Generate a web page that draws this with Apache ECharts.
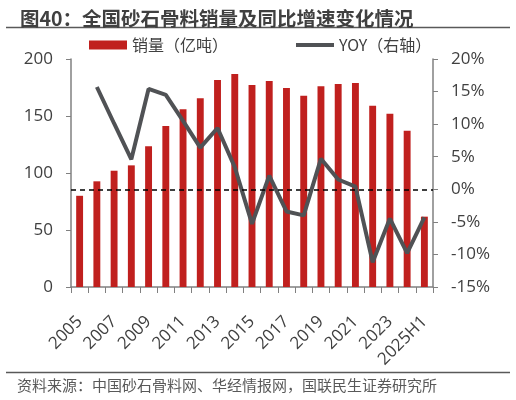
<!DOCTYPE html>
<html><head><meta charset="utf-8">
<script src="https://cdn.jsdelivr.net/npm/echarts@6/dist/echarts.min.js"></script>
<style>html,body{margin:0;padding:0;background:#fff;}#c{width:516px;height:400px;}</style>
</head><body><div id="c"></div>
<script>
const categories = ['2005','2006','2007','2008','2009','2010','2011','2012','2013','2014','2015','2016','2017','2018','2019','2020','2021','2022','2023','2024','2025H1'];
const salesVolume = [80, 92.7, 102, 106.7, 123.4, 141.2, 155.9, 165.5, 181.6, 186.8, 177.2, 180.7, 174.6, 167.8, 176, 178, 179, 159, 152, 137, 61.7];
const yoyGrowth = [null, 15.7, 10.1, 4.6, 15.4, 14.5, 10.5, 6.4, 9.4, 3.4, -5.3, 2.1, -3.4, -4.0, 4.7, 1.5, 0.4, -11.2, -4.5, -9.8, -4.3];
const leftTicks = [0, 50, 100, 150, 200];
const rightTicks = [-15, -10, -5, 0, 5, 10, 15, 20];

const font = '"Open Sans","Noto Sans CJK SC",sans-serif';
const cjk = '"Noto Sans CJK SC",sans-serif';
const chart = echarts.init(document.getElementById('c'));
chart.setOption({
  animation: false,
  backgroundColor: '#fff',
  title: {
    text: '图40：全国砂石骨料销量及同比增速变化情况',
    left: 15, top: 4,
    textStyle: {fontFamily: cjk, fontSize: 19.5, fontWeight: 'bold', color: '#404040'}
  },
  graphic: [
    {type: 'line', shape: {x1: 6, y1: 27.5, x2: 510, y2: 27.5}, style: {stroke: '#595959', lineWidth: 1.5}},
    {type: 'line', shape: {x1: 6, y1: 372.5, x2: 510, y2: 372.5}, style: {stroke: '#595959', lineWidth: 1.5}},
    {type: 'text', left: 17, top: 378, style: {text: '资料来源：中国砂石骨料网、华经情报网，国联民生证券研究所', fontFamily: cjk, fontSize: 15, fill: '#595959'}}
  ],
  legend: {
    top: 32, left: 84,
    itemGap: 68,
    itemWidth: 38, itemHeight: 9,
    textStyle: {fontFamily: cjk, fontSize: 16, color: '#404040'},
    data: [
      {name: '销量（亿吨）', icon: 'rect'},
      {name: 'YOY（右轴）', icon: 'path://M0,0 L40,0 L40,4 L0,4 Z'}
    ]
  },
  grid: {left: 71, right: 83, top: 59, bottom: 113},
  xAxis: {
    type: 'category', data: categories,
    boundaryGap: true,
    axisLine: {lineStyle: {color: '#808080', width: 1.5}},
    axisTick: {show: true, alignWithLabel: false, interval: 0, length: 6, lineStyle: {color: '#808080'}},
    axisLabel: {interval: 1, rotate: 45, fontFamily: font, fontSize: 17, color: '#404040', margin: 32}
  },
  yAxis: [
    {
      type: 'value', min: 0, max: 200, interval: 50, position: 'left',
      axisLine: {show: true, lineStyle: {color: '#808080', width: 1.5}},
      axisTick: {show: true, inside: false, length: 5, lineStyle: {color: '#808080'}},
      splitLine: {show: false},
      axisLabel: {fontFamily: font, fontSize: 17, color: '#404040', margin: 18}
    },
    {
      type: 'value', min: -15, max: 20, interval: 5, position: 'right',
      axisLine: {show: true, lineStyle: {color: '#808080', width: 1.5}},
      axisTick: {show: true, inside: false, length: 5, lineStyle: {color: '#808080'}},
      splitLine: {show: false},
      axisLabel: {fontFamily: font, fontSize: 17, color: '#404040', margin: 18, formatter: v => v + '%'}
    }
  ],
  series: [
    {
      name: '销量（亿吨）', type: 'bar', data: salesVolume, yAxisIndex: 0,
      barWidth: '40%',
      itemStyle: {color: '#C0201E'}
    },
    {
      name: 'YOY（右轴）', type: 'line', data: yoyGrowth, yAxisIndex: 1,
      symbol: 'none', connectNulls: false,
      lineStyle: {color: '#505255', width: 4},
      itemStyle: {color: '#505255'},
      markLine: {
        silent: true, symbol: 'none', label: {show: false},
        lineStyle: {color: '#000', type: [5, 4], width: 1.5},
        data: [{yAxis: 0}]
      }
    }
  ]
});
</script></body></html>
